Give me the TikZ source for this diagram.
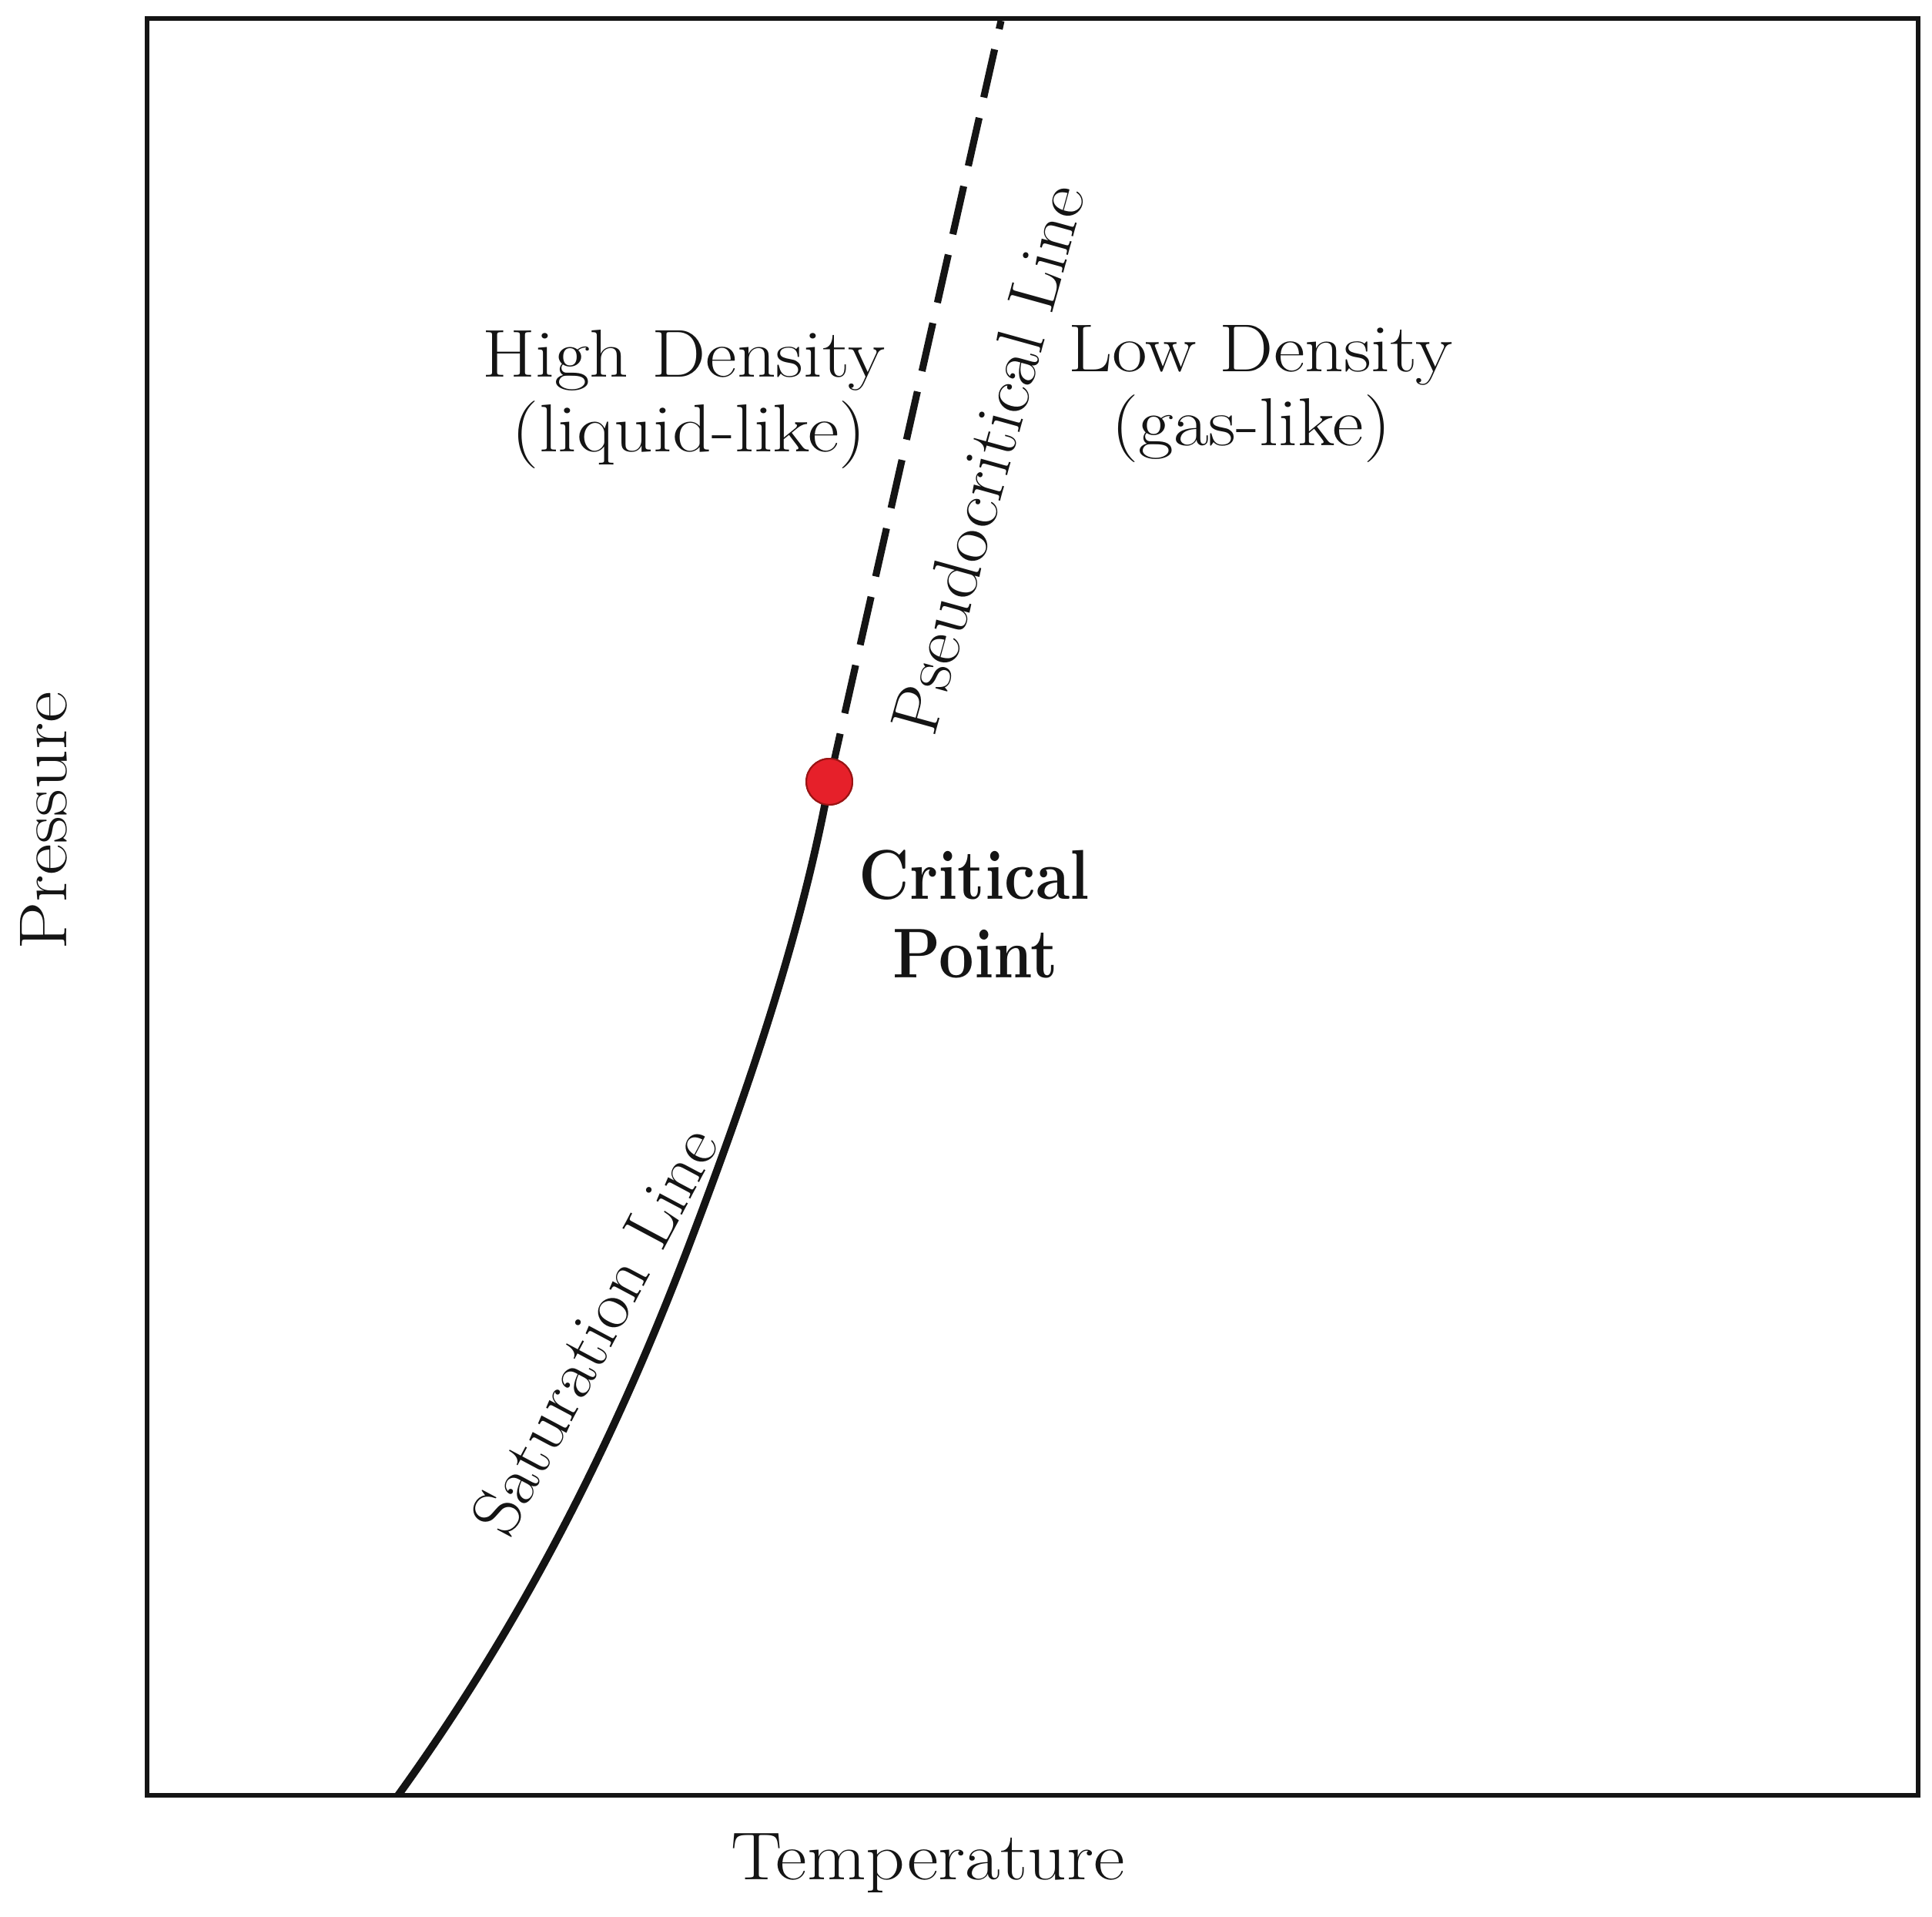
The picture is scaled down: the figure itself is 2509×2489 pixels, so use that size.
\documentclass[tikz,border=0pt]{standalone}
\usepackage{fontspec}
\setmainfont{Latin Modern Roman}[FakeStretch=1.13]
\newfontfamily\critfont{Latin Modern Roman}[FakeStretch=0.885]
\newfontfamily\satfont{Latin Modern Roman}[FakeStretch=1.06]
\newfontfamily\pcfont{Latin Modern Roman}[FakeStretch=1.09]
\definecolor{dotred}{HTML}{E6202A}
\definecolor{dotedge}{HTML}{9A1414}
\definecolor{ink}{HTML}{141414}
\begin{document}
\begin{tikzpicture}[x=0.01cm,y=-0.01cm,
  lbl/.style={font=\fontsize{25}{30}\selectfont, inner sep=0pt, text=ink},
  boldlbl/.style={font=\critfont\fontsize{26}{30}\selectfont\bfseries, inner sep=0pt, text=ink},
  framebox/.style={line width=1.7pt, draw=ink},
  satline/.style={line width=2.8pt, draw=ink},
  pseudoline/.style={line width=2.6pt, draw=ink, dash pattern=on 18.2pt off 7.7pt},
  critdot/.style={circle, fill=dotred, draw=dotedge, line width=0.6pt, minimum size=17pt, inner sep=0pt}]
\useasboundingbox (0,0) rectangle (2509,2489);
\fill[white] (0,0) rectangle (2509,2489);
\draw[framebox] (191,24) rectangle (2491,2331);
\coordinate (base) at (517,2331);
\coordinate (top) at (1300,27);
\coordinate (mid) at (897,1611);
\node[critdot] (cp) at (1077,1015) {};
\draw[satline] (cp.center) .. controls (1040,1215) and (973,1411) .. (mid)
  .. controls (806,1851) and (690,2091) .. (base);
\draw[pseudoline] (cp.center) -- (top);
\node[critdot] at (cp.center) {};
\node[lbl, anchor=base] (hd1) at (888,490) {High Density};
\node[lbl, anchor=base] (hd2) at (895,587) {(liquid-like)};
\node[lbl, anchor=base] (ld1) at (1637,483) {Low Density};
\node[lbl, anchor=base] (ld2) at (1625,579) {(gas-like)};
\node[boldlbl, anchor=base] (cp1) at (1265,1168) {Critical};
\node[boldlbl, anchor=base] (cp2) at (1267,1269) {Point};
\node[lbl, anchor=base] (tlab) at (1205,2440) {Temperature};
\node[lbl, anchor=base, rotate=90] (plab) at (87,1066) {Pressure};
\node[lbl, font=\satfont\fontsize{25}{30}\selectfont, rotate=62] (satlab) at (772,1728) {Saturation Line};
\node[lbl, font=\pcfont\fontsize{25}{30}\selectfont, rotate=74.5] (pclab) at (1283,596) {Pseudocritical Line};
\end{tikzpicture}
\end{document}
